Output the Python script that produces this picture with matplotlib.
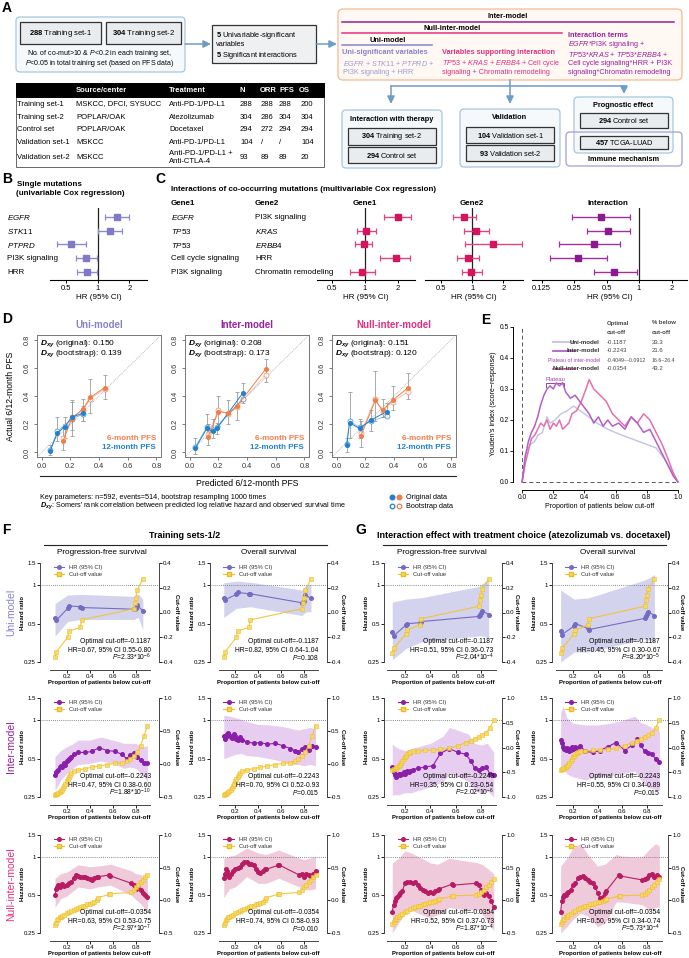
import numpy as np
import matplotlib
matplotlib.use("Agg")
import matplotlib.pyplot as plt
from matplotlib.patches import FancyBboxPatch, Rectangle
from matplotlib.lines import Line2D
from matplotlib.ticker import NullLocator

plt.rcParams['font.family'] = ['Liberation Sans', 'DejaVu Sans']
plt.rcParams['mathtext.fontset'] = 'custom'
plt.rcParams['mathtext.rm'] = 'Liberation Sans'
plt.rcParams['mathtext.it'] = 'Liberation Sans:italic'
plt.rcParams['mathtext.bf'] = 'Liberation Sans:bold'
try:
    plt.rcParams['mathtext.bfit'] = 'Liberation Sans:italic:bold'
    DXY = r"$\mathbfit{D}_{\mathbfit{xy}}$"
except KeyError:
    DXY = r"$\mathbf{D}_{\mathbf{xy}}$"

# ------------------------------------------------------------------ DATA
# Panel A table
table_header = ["Source/center", "Treatment", "N", "ORR", "PFS", "OS"]
table_sets = ["Training set-1", "Training set-2", "Control set", "Validation set-1", "Validation set-2"]
table_source = ["MSKCC, DFCI, SYSUCC", "POPLAR/OAK", "POPLAR/OAK", "MSKCC", "MSKCC"]
table_treat = ["Anti-PD-1/PD-L1", "Atezolizumab", "Docetaxel", "Anti-PD-1/PD-L1",
               "Anti-PD-1/PD-L1 +\nAnti-CTLA-4"]
table_N = ["288", "304", "294", "104", "93"]
table_ORR = ["288", "286", "272", "/", "89"]
table_PFS = ["288", "304", "294", "/", "89"]
table_OS = ["200", "304", "294", "104", "20"]

# Panel B
b_genes = ["EGFR", "STK11", "PTPRD", "PI3K signaling", "HRR"]
b_italic = [True, True, True, False, False]
b_hr = [1.52, 1.30, 0.55, 0.77, 0.78]
b_lo = [1.17, 1.00, 0.41, 0.62, 0.63]
b_hi = [1.98, 1.69, 0.77, 0.98, 0.98]

# Panel C
c_gene1 = ["EGFR", "TP53", "TP53", "Cell cycle signaling", "PI3K signaling"]
c_gene1_it = [True, True, True, False, False]
c_gene2 = ["PI3K signaling", "KRAS", "ERBB4", "HRR", "Chromatin remodeling"]
c_gene2_it = [False, True, True, False, False]
c_g1_hr = [2.00, 1.02, 0.98, 1.92, 0.94]
c_g1_lo = [1.50, 0.85, 0.81, 1.37, 0.73]
c_g1_hi = [2.68, 1.26, 1.16, 2.63, 1.23]
c_g2_hr = [0.84, 1.09, 1.59, 0.92, 0.98]
c_g2_lo = [0.66, 0.84, 0.86, 0.72, 0.79]
c_g2_hi = [1.09, 1.45, 3.00, 1.17, 1.25]
c_int_hr = [0.44, 0.52, 0.38, 0.27, 0.59]
c_int_lo = [0.24, 0.33, 0.18, 0.15, 0.38]
c_int_hi = [0.82, 0.82, 0.66, 0.51, 0.96]

# Panel D calibration (predicted, observed, bootstrap, CI)
d_models = ["Uni-model", "Inter-model", "Null-inter-model"]
d_dxy_orig = ["0.150", "0.208", "0.151"]
d_dxy_boot = ["0.139", "0.173", "0.120"]
uni_p6 = [0.15, 0.21, 0.29, 0.34, 0.44]
uni_o6 = [0.08, 0.24, 0.31, 0.39, 0.46]
uni_b6 = [0.10, 0.25, 0.30, 0.38, 0.45]
uni_l6 = [0.02, 0.12, 0.22, 0.28, 0.38]
uni_h6 = [0.18, 0.37, 0.38, 0.52, 0.55]
uni_p12 = [0.06, 0.11, 0.16, 0.21, 0.29]
uni_o12 = [0.01, 0.14, 0.18, 0.25, 0.28]
uni_b12 = [0.02, 0.15, 0.19, 0.24, 0.27]
uni_l12 = [-0.02, 0.08, 0.10, 0.16, 0.22]
uni_h12 = [0.05, 0.25, 0.25, 0.36, 0.33]
inter_p6 = [0.13, 0.20, 0.27, 0.33, 0.53]
inter_o6 = [0.11, 0.29, 0.28, 0.33, 0.59]
inter_b6 = [0.13, 0.30, 0.27, 0.32, 0.55]
inter_l6 = [0.05, 0.19, 0.20, 0.23, 0.50]
inter_h6 = [0.20, 0.40, 0.37, 0.43, 0.66]
inter_p12 = [0.04, 0.12, 0.16, 0.19, 0.37]
inter_o12 = [0.03, 0.17, 0.15, 0.17, 0.42]
inter_b12 = [0.04, 0.18, 0.16, 0.18, 0.38]
inter_l12 = [-0.01, 0.10, 0.10, 0.13, 0.35]
inter_h12 = [0.10, 0.27, 0.24, 0.21, 0.49]
null_p6 = [0.17, 0.27, 0.32, 0.39, 0.50]
null_o6 = [0.12, 0.37, 0.30, 0.37, 0.46]
null_b6 = [0.14, 0.38, 0.29, 0.36, 0.43]
null_l6 = [0.04, 0.22, 0.25, 0.30, 0.38]
null_h6 = [0.22, 0.58, 0.38, 0.47, 0.56]
null_p12 = [0.07, 0.09, 0.16, 0.24, 0.35]
null_o12 = [0.05, 0.21, 0.17, 0.23, 0.29]
null_b12 = [0.06, 0.22, 0.18, 0.22, 0.26]
null_l12 = [0.00, 0.10, 0.10, 0.15, 0.25]
null_h12 = [0.10, 0.43, 0.24, 0.30, 0.35]

# Panel E Youden index curves
e_x_uni = [0.00, 0.02, 0.05, 0.08, 0.10, 0.13, 0.16, 0.18, 0.21, 0.25, 0.29, 0.33, 0.40,
           0.48, 0.55, 0.62, 0.70, 0.78, 0.86, 0.92, 1.00]
e_y_uni = [0.00, 0.09, 0.12, 0.13, 0.15, 0.16, 0.21, 0.19, 0.20, 0.22, 0.23, 0.245, 0.22,
           0.19, 0.17, 0.155, 0.14, 0.125, 0.11, 0.07, 0.00]
e_x_inter = [0.00, 0.02, 0.04, 0.06, 0.08, 0.10, 0.12, 0.14, 0.16, 0.18, 0.20, 0.22, 0.24, 0.26,
             0.28, 0.31, 0.34, 0.37, 0.40, 0.43, 0.46, 0.49, 0.52, 0.55, 0.58, 0.62, 0.66, 0.70,
             0.74, 0.78, 0.82, 0.86, 0.90, 0.94, 0.97, 1.00]
e_y_inter = [0.00, 0.08, 0.13, 0.16, 0.18, 0.21, 0.25, 0.28, 0.30, 0.31, 0.30, 0.32, 0.31, 0.32,
             0.29, 0.27, 0.28, 0.26, 0.24, 0.22, 0.19, 0.21, 0.18, 0.20, 0.18, 0.19, 0.17, 0.21,
             0.19, 0.16, 0.17, 0.13, 0.09, 0.05, 0.02, 0.00]
e_x_null = [0.00, 0.02, 0.04, 0.06, 0.08, 0.10, 0.12, 0.14, 0.16, 0.18, 0.20, 0.22, 0.24, 0.26,
            0.28, 0.30, 0.32, 0.35, 0.38, 0.41, 0.43, 0.46, 0.50, 0.54, 0.58, 0.62, 0.66, 0.70,
            0.74, 0.78, 0.82, 0.86, 0.90, 0.94, 0.97, 1.00]
e_y_null = [0.00, 0.06, 0.10, 0.14, 0.15, 0.17, 0.19, 0.18, 0.20, 0.17, 0.19, 0.18, 0.20, 0.17,
            0.18, 0.19, 0.22, 0.23, 0.26, 0.30, 0.33, 0.30, 0.28, 0.26, 0.22, 0.20, 0.18, 0.21,
            0.19, 0.22, 0.20, 0.16, 0.12, 0.07, 0.03, 0.00]
e_names = ["Uni-model", "Inter-model", "Plateau of inter-model", "Null-inter-model"]
e_cutoffs = ["-0.1187", "-0.2243", "-0.4049~-0.0912", "-0.0354"]
e_below = ["33.3", "21.6", "16.6~26.4", "43.2"]

# Panels F/G  --- row 1 : Uni-model
u_x = [0.10, 0.11, 0.21, 0.22, 0.32, 0.33, 0.78, 0.79, 0.80, 0.81, 0.86]
u_cut_F = [-0.36, -0.32, -0.20, -0.15, -0.12, -0.06, 0.03, 0.08, 0.12, 0.18, 0.27]
u_cut_G = [-0.33, -0.29, -0.17, -0.14, -0.10, -0.05, 0.05, 0.10, 0.14, 0.19, 0.27]
u_hr_F_pfs = [0.55, 0.53, 0.66, 0.69, 0.68, 0.67, 0.65, 0.65, 0.66, 0.70, 0.63]
u_hr_F_os = [0.80, 0.77, 0.85, 0.88, 0.86, 0.86, 0.73, 0.74, 0.76, 0.84, 0.79]
u_hr_G_pfs = [0.43, 0.40, 0.49, 0.50, 0.51, 0.52, 0.57, 0.59, 0.61, 0.63, 0.59]
u_hr_G_os = [0.44, 0.41, 0.48, 0.50, 0.46, 0.45, 0.55, 0.57, 0.60, 0.62, 0.58]
u_bx = [0.10, 0.21, 0.33, 0.78, 0.82, 0.86]
u_lo_F_pfs = [0.40, 0.52, 0.54, 0.54, 0.56, 0.45]
u_hi_F_pfs = [0.72, 0.84, 0.85, 0.82, 0.86, 0.78]
u_lo_F_os = [0.56, 0.66, 0.68, 0.58, 0.62, 0.62]
u_hi_F_os = [1.05, 1.08, 1.06, 0.92, 1.00, 1.02]
u_lo_G_pfs = [0.26, 0.32, 0.36, 0.40, 0.40, 0.38]
u_hi_G_pfs = [0.74, 0.78, 0.80, 0.98, 1.05, 1.12]
u_lo_G_os = [0.25, 0.30, 0.30, 0.38, 0.37, 0.36]
u_hi_G_os = [0.92, 0.78, 0.80, 1.10, 1.15, 1.22]

# row 2 : Inter-model
i_x = [0.10, 0.11, 0.12, 0.13, 0.14, 0.15, 0.16, 0.17, 0.18, 0.19, 0.20, 0.21, 0.22, 0.23, 0.24,
       0.26, 0.30, 0.36, 0.42, 0.48, 0.55, 0.62, 0.68, 0.72, 0.75, 0.78, 0.81, 0.84, 0.87, 0.90]
i_cut_F = [-0.47, -0.46, -0.45, -0.44, -0.43, -0.41, -0.39, -0.37, -0.34, -0.30, -0.26, -0.23,
           -0.20, -0.16, -0.13, -0.11, -0.09, -0.07, -0.05, -0.03, -0.01, 0.01, 0.02, 0.04, 0.08,
           0.12, 0.18, 0.28, 0.42, 0.58]
i_cut_G = [-0.46, -0.44, -0.43, -0.41, -0.40, -0.38, -0.35, -0.31, -0.27, -0.24, -0.20, -0.17,
           -0.14, -0.12, -0.10, -0.08, -0.07, -0.06, -0.05, -0.04, -0.02, 0.04, 0.10, 0.14, 0.18,
           0.22, 0.26, 0.30, 0.40, 0.55]
i_hr_F_pfs = [0.37, 0.39, 0.40, 0.41, 0.43, 0.44, 0.43, 0.45, 0.46, 0.45, 0.48, 0.49, 0.50, 0.51,
              0.52, 0.54, 0.56, 0.56, 0.57, 0.61, 0.58, 0.57, 0.54, 0.50, 0.53, 0.55, 0.52, 0.49,
              0.46, 0.46]
i_hr_F_os = [0.75, 0.72, 0.74, 0.78, 0.80, 0.77, 0.74, 0.73, 0.76, 0.78, 0.75, 0.72, 0.70, 0.72,
             0.74, 0.70, 0.68, 0.66, 0.67, 0.65, 0.66, 0.63, 0.60, 0.58, 0.56, 0.60, 0.62, 0.59,
             0.63, 0.62]
i_hr_G_pfs = [0.43, 0.39, 0.37, 0.36, 0.37, 0.38, 0.37, 0.38, 0.38, 0.39, 0.38, 0.39, 0.40, 0.39,
              0.40, 0.41, 0.42, 0.43, 0.44, 0.55, 0.60, 0.56, 0.54, 0.48, 0.42, 0.41, 0.42, 0.43,
              0.38, 0.37]
i_hr_G_os = [0.70, 0.66, 0.62, 0.60, 0.59, 0.61, 0.60, 0.58, 0.59, 0.62, 0.60, 0.61, 0.62, 0.60,
             0.61, 0.63, 0.57, 0.56, 0.58, 0.62, 0.67, 0.58, 0.64, 0.71, 0.64, 0.57, 0.55, 0.54,
             0.50, 0.47]
i_bx_F = [0.10, 0.15, 0.20, 0.25, 0.30, 0.40, 0.50, 0.60, 0.70, 0.75, 0.80, 0.85, 0.90]
i_lo_F_pfs = [0.28, 0.34, 0.38, 0.42, 0.45, 0.46, 0.48, 0.46, 0.42, 0.43, 0.42, 0.38, 0.33]
i_hi_F_pfs = [0.52, 0.58, 0.62, 0.65, 0.70, 0.70, 0.74, 0.70, 0.66, 0.66, 0.66, 0.62, 0.63]
i_lo_F_os = [0.50, 0.52, 0.54, 0.55, 0.53, 0.52, 0.50, 0.48, 0.45, 0.45, 0.44, 0.45, 0.44]
i_hi_F_os = [1.10, 1.08, 1.05, 1.02, 0.98, 0.93, 0.92, 0.90, 0.86, 0.84, 0.86, 0.88, 0.86]
i_bx_G_pfs = [0.10, 0.15, 0.20, 0.25, 0.30, 0.40, 0.50, 0.55, 0.60, 0.70, 0.75, 0.80, 0.85, 0.90]
i_lo_G_pfs = [0.26, 0.26, 0.27, 0.27, 0.28, 0.30, 0.33, 0.38, 0.37, 0.33, 0.28, 0.27, 0.28, 0.25]
i_hi_G_pfs = [0.65, 0.60, 0.58, 0.60, 0.62, 0.66, 0.75, 0.88, 0.85, 0.78, 0.66, 0.64, 0.66, 0.56]
i_bx_G_os = [0.10, 0.12, 0.15, 0.20, 0.30, 0.40, 0.50, 0.60, 0.70, 0.75, 0.80, 0.90]
i_lo_G_os = [0.40, 0.42, 0.38, 0.36, 0.34, 0.36, 0.37, 0.38, 0.40, 0.34, 0.30, 0.28]
i_hi_G_os = [1.15, 1.30, 1.05, 0.95, 0.92, 0.92, 0.95, 1.00, 1.08, 0.96, 0.92, 0.82]

# row 3 : Null-inter-model
n_x = [0.10, 0.11, 0.12, 0.13, 0.14, 0.15, 0.16, 0.18, 0.20, 0.22, 0.24, 0.26, 0.28, 0.30, 0.32,
       0.34, 0.36, 0.38, 0.40, 0.42, 0.44, 0.46, 0.47, 0.57, 0.58, 0.76, 0.78, 0.80, 0.82, 0.84,
       0.86, 0.88, 0.90]
n_cut_F = [-0.38, -0.34, -0.30, -0.28, -0.26, -0.25, -0.24, -0.22, -0.20, -0.18, -0.16, -0.15,
           -0.13, -0.12, -0.10, -0.09, -0.08, -0.06, -0.05, -0.04, -0.02, 0.01, 0.04, 0.09, 0.10,
           0.12, 0.16, 0.20, 0.24, 0.28, 0.31, 0.35, 0.39]
n_cut_G = [-0.36, -0.33, -0.30, -0.28, -0.26, -0.25, -0.23, -0.21, -0.18, -0.16, -0.14, -0.12,
           -0.10, -0.09, -0.08, -0.06, -0.05, -0.04, -0.03, -0.02, -0.01, 0.00, 0.02, 0.06, 0.07,
           0.08, 0.10, 0.13, 0.16, 0.20, 0.24, 0.28, 0.33]
n_hr_F_pfs = [0.50, 0.56, 0.58, 0.60, 0.58, 0.60, 0.61, 0.59, 0.60, 0.62, 0.64, 0.68, 0.72, 0.71,
              0.70, 0.69, 0.70, 0.68, 0.67, 0.66, 0.68, 0.70, 0.70, 0.72, 0.71, 0.62, 0.60, 0.56,
              0.58, 0.55, 0.52, 0.50, 0.48]
n_hr_F_os = [0.68, 0.74, 0.80, 0.78, 0.72, 0.70, 0.73, 0.78, 0.80, 0.82, 0.84, 0.88, 0.92, 0.91,
             0.89, 0.88, 0.86, 0.80, 0.76, 0.75, 0.78, 0.80, 0.80, 0.86, 0.87, 0.72, 0.73, 0.70,
             0.74, 0.72, 0.70, 0.74, 0.78]
n_hr_G_pfs = [0.37, 0.42, 0.45, 0.47, 0.48, 0.50, 0.52, 0.54, 0.62, 0.63, 0.63, 0.62, 0.63, 0.60,
              0.57, 0.55, 0.54, 0.52, 0.53, 0.52, 0.54, 0.55, 0.56, 0.61, 0.60, 0.62, 0.60, 0.55,
              0.50, 0.52, 0.49, 0.45, 0.40]
n_hr_G_os = [0.37, 0.45, 0.48, 0.50, 0.50, 0.52, 0.53, 0.55, 0.60, 0.62, 0.68, 0.70, 0.71, 0.68,
             0.66, 0.64, 0.62, 0.58, 0.52, 0.47, 0.48, 0.52, 0.54, 0.72, 0.71, 0.66, 0.67, 0.68,
             0.72, 0.74, 0.70, 0.72, 0.70]
n_bx_F = [0.10, 0.15, 0.20, 0.30, 0.40, 0.47, 0.58, 0.76, 0.80, 0.85, 0.90]
n_lo_F_pfs = [0.40, 0.47, 0.49, 0.58, 0.56, 0.58, 0.60, 0.50, 0.46, 0.42, 0.36]
n_hi_F_pfs = [0.68, 0.74, 0.76, 0.87, 0.84, 0.85, 0.88, 0.78, 0.74, 0.72, 0.66]
n_lo_F_os = [0.48, 0.56, 0.58, 0.70, 0.62, 0.62, 0.68, 0.58, 0.56, 0.55, 0.56]
n_hi_F_os = [0.98, 1.02, 1.04, 1.18, 1.08, 1.05, 1.14, 0.98, 0.96, 0.98, 1.02]
n_bx_G_pfs = [0.10, 0.15, 0.20, 0.25, 0.30, 0.40, 0.46, 0.55, 0.60, 0.78, 0.82, 0.86, 0.90]
n_lo_G_pfs = [0.25, 0.30, 0.36, 0.38, 0.36, 0.33, 0.35, 0.40, 0.39, 0.38, 0.34, 0.30, 0.26]
n_hi_G_pfs = [0.90, 0.98, 1.12, 1.08, 1.02, 0.90, 0.88, 0.98, 0.96, 0.90, 0.86, 0.80, 0.74]
n_bx_G_os = [0.10, 0.15, 0.20, 0.26, 0.32, 0.40, 0.46, 0.55, 0.60, 0.76, 0.82, 0.87, 0.90]
n_lo_G_os = [0.25, 0.28, 0.32, 0.36, 0.34, 0.28, 0.30, 0.44, 0.44, 0.42, 0.38, 0.40, 0.40]
n_hi_G_os = [0.85, 0.98, 1.18, 1.28, 1.05, 0.85, 0.88, 1.05, 1.02, 1.00, 1.16, 1.28, 1.22]

fg_cutoff = ["-0.1187", "-0.2243", "-0.0354"]
fg_hrtext = [["0.67, 95% CI 0.55-0.80", "0.82, 95% CI 0.64-1.04", "0.51, 95% CI 0.36-0.73", "0.45, 95% CI 0.30-0.67"],
             ["0.47, 95% CI 0.38-0.60", "0.70, 95% CI 0.52-0.93", "0.35, 95% CI 0.23-0.54", "0.55, 95% CI 0.34-0.89"],
             ["0.63, 95% CI 0.53-0.75", "0.74, 95% CI 0.58-0.93", "0.52, 95% CI 0.37-0.73", "0.50, 95% CI 0.34-0.74"]]
fg_ptext = [[r"2.33*10$^{-6}$", "0.108", r"2.04*10$^{-4}$", r"8.20*10$^{-5}$"],
            [r"1.88*10$^{-10}$", "0.015", r"2.02*10$^{-6}$", "0.015"],
            [r"2.97*10$^{-7}$", "0.010", r"1.87*10$^{-4}$", r"5.73*10$^{-4}$"]]

# ------------------------------------------------------------------ STYLE
C_UNI = '#8782CC'
C_INTER = '#97219F'
C_NULL = '#E0307F'
C_6 = '#F07E4B'
C_12 = '#2180CF'
C_YEL = '#F2C230'

W, H = 689, 958
fig = plt.figure(figsize=(W / 100, H / 100), dpi=100)
ov = fig.add_axes([0, 0, 1, 1])
ov.set_xlim(0, W)
ov.set_ylim(H, 0)
ov.axis('off')


def add_ax(x0, y0, x1, y1):
    a = fig.add_axes([x0 / W, 1 - y1 / H, (x1 - x0) / W, (y1 - y0) / H])
    a.patch.set_visible(False)
    return a


def T(x, y, s, size=5.5, **kw):
    kw.setdefault('va', 'center')
    return ov.text(x, y, s, fontsize=size, **kw)


def rbox(x0, y0, x1, y1, ec, fc, lw=0.9, r=4, z=1):
    ov.add_patch(FancyBboxPatch((x0, y0), x1 - x0, y1 - y0,
                                boxstyle=f"round,pad=0,rounding_size={r}",
                                ec=ec, fc=fc, lw=lw, zorder=z))


def sbox(x0, y0, x1, y1, ec='#333333', fc='#E8ECEF', lw=0.9, z=2):
    ov.add_patch(Rectangle((x0, y0), x1 - x0, y1 - y0, ec=ec, fc=fc, lw=lw, zorder=z))


def arrow(x0, y0, x1, y1, color='#6E9DC4'):
    ov.annotate('', xy=(x1, y1), xytext=(x0, y0), zorder=3,
                arrowprops=dict(arrowstyle='-|>,head_length=0.45,head_width=0.22',
                                color=color, lw=1.1, shrinkA=0, shrinkB=0))


def it(s, flag):
    return (r"$\mathit{" + s + "}$") if flag else s


# ------------------------------------------------------------------ PANEL A
T(2, 8, 'A', size=10, fontweight='bold')
rbox(16, 17, 185, 72, ec='#A9C6DB', fc='#F5F9FC')
sbox(20, 22, 101, 44)
sbox(106, 22, 181, 44)
T(60.5, 33, r"$\mathbf{288}$ Training set-1", ha='center', zorder=4)
T(143.5, 33, r"$\mathbf{304}$ Training set-2", ha='center', zorder=4)
T(100, 53, r"No. of co-mut>10 & $\mathit{P}$<0.2 in each training set,", size=5.0, ha='center', zorder=4)
T(100, 63, r"$\mathit{P}$<0.05 in total training set (based on PFS data)", size=5.0, ha='center', zorder=4)
arrow(185, 44, 211, 44)
sbox(212, 25, 316, 63, fc='#EEF0F2')
T(216, 35, r"$\mathbf{5}$ Univariable-significant", size=5.3, zorder=4)
T(216, 44, "variables", size=5.3, zorder=4)
T(216, 55, r"$\mathbf{5}$ Significant interactions", size=5.3, zorder=4)
arrow(316, 44, 337, 44)

rbox(338, 9, 682, 80, ec='#F6B994', fc='#FFF8F3', r=5)
T(508, 16, 'Inter-model', size=5.3, ha='center', fontweight='bold', zorder=4)
ov.plot([342, 674], [22, 22], color=C_INTER, lw=1.1, zorder=4)
T(452, 28.5, 'Null-inter-model', size=5.3, ha='center', fontweight='bold', zorder=4)
ov.plot([342, 562], [33, 33], color=C_NULL, lw=1.1, zorder=4)
T(388, 40, 'Uni-model', size=5.3, ha='center', fontweight='bold', zorder=4)
ov.plot([342, 432], [45, 45], color=C_UNI, lw=1.1, zorder=4)
T(342, 52, 'Uni-significant variables', size=5.3, color=C_UNI, fontweight='bold', zorder=4)
T(343, 63, r"$\mathit{EGFR}$ + $\mathit{STK11}$ + $\mathit{PTPRD}$ +", size=5.2, color='#9E9BD0', zorder=4)
T(343, 72, "PI3K signaling + HRR", size=5.2, color='#9E9BD0', zorder=4)
T(442, 52, 'Variables supporting interaction', size=5.3, color=C_NULL, fontweight='bold', zorder=4)
T(442, 63, r"$\mathit{TP53}$ + $\mathit{KRAS}$ + $\mathit{ERBB4}$ + Cell cycle", size=5.2, color=C_NULL, zorder=4)
T(442, 72, "signaling + Chromatin remodeling", size=5.2, color=C_NULL, zorder=4)
T(568, 35, 'Interaction terms', size=5.3, color=C_INTER, fontweight='bold', zorder=4)
T(568, 44, r"$\mathit{EGFR}$*PI3K signaling +", size=5.2, color=C_INTER, zorder=4)
T(568, 54, r"$\mathit{TP53}$*$\mathit{KRAS}$ + $\mathit{TP53}$*$\mathit{ERBB4}$ +", size=5.2, color=C_INTER, zorder=4)
T(568, 63, "Cell cycle signaling*HRR + PI3K", size=5.2, color=C_INTER, zorder=4)
T(568, 72, "signaling*Chromatin remodeling", size=5.2, color=C_INTER, zorder=4)

ov.plot([510, 510], [80, 86], color='#6E9DC4', lw=1.1)
ov.plot([391, 624], [86, 86], color='#6E9DC4', lw=1.1)
arrow(391, 86, 391, 104)
arrow(510, 86, 510, 104)
arrow(624, 86, 624, 94)

rbox(342, 110, 442, 168, ec='#A9C6DB', fc='#F5F9FC')
T(392, 119, 'Interaction with therapy', size=5.3, ha='center', fontweight='bold', zorder=4)
sbox(348, 128, 436, 145)
T(392, 136.5, r"$\mathbf{304}$ Training set-2", size=5.3, ha='center', zorder=4)
sbox(348, 147, 436, 163)
T(392, 155, r"$\mathbf{294}$ Control set", size=5.3, ha='center', zorder=4)

rbox(460, 109, 560, 167, ec='#A9C6DB', fc='#F5F9FC')
T(510, 117, 'Validation', size=5.3, ha='center', fontweight='bold', zorder=4)
sbox(466, 127, 554, 143)
T(510, 135, r"$\mathbf{104}$ Validation set-1", size=5.3, ha='center', zorder=4)
sbox(466, 145, 554, 161)
T(510, 153, r"$\mathbf{93}$ Validation set-2", size=5.3, ha='center', zorder=4)

rbox(574, 97, 673, 153, ec='#A9C6DB', fc='#F5F9FC', z=1)
T(623, 105, 'Prognostic effect', size=5.3, ha='center', fontweight='bold', zorder=4)
sbox(580, 113, 668, 128)
T(624, 120.5, r"$\mathbf{294}$ Control set", size=5.3, ha='center', zorder=4)
rbox(566, 132, 682, 166, ec='#ABA6DA', fc='none', lw=1.0, z=3)
sbox(580, 136, 668, 149, z=4)
T(624, 142.5, r"$\mathbf{457}$ TCGA-LUAD", size=5.3, ha='center', zorder=5)
T(624, 159, 'Immune mechanism', size=5.3, ha='center', fontweight='bold', zorder=4)

# table
ov.add_patch(Rectangle((16, 83), 308, 84, ec='#666666', fc='white', lw=0.7, zorder=1))
ov.add_patch(Rectangle((16, 83), 308, 14, ec='black', fc='black', lw=0.7, zorder=2))
col_x = [76, 169, 240, 260, 279, 299]
for cx, hd in zip(col_x, table_header):
    T(cx, 90, hd, size=5.5, color='white', fontweight='bold', zorder=3)
row_y = [104, 117, 129, 142, 157.5]
for k in range(len(table_sets)):
    y = row_y[k]
    T(17, y, table_sets[k], size=5.5, zorder=3)
    T(76, y, table_source[k], size=5.5, zorder=3)
    T(169, y, table_treat[k], size=5.5, zorder=3, linespacing=1.05)
    T(240, y, table_N[k], size=5.5, zorder=3)
    T(261, y, table_ORR[k], size=5.5, zorder=3)
    T(279, y, table_PFS[k], size=5.5, zorder=3)
    T(301, y, table_OS[k], size=5.5, zorder=3)

# ------------------------------------------------------------------ PANEL B / C
T(2, 179, 'B', size=10, fontweight='bold')
T(17, 184, 'Single mutations', size=5.8, fontweight='bold')
T(16, 193, '(univariable Cox regression)', size=5.8, fontweight='bold')
T(155, 179, 'C', size=10, fontweight='bold')
T(171, 189, 'Interactions of co-occurring mutations (multivariable Cox regression)', size=5.8, fontweight='bold')
T(171, 203, 'Gene1', size=5.8, fontweight='bold')
T(255, 203, 'Gene2', size=5.8, fontweight='bold')
T(365, 203, 'Gene1', size=5.8, fontweight='bold', ha='center')
T(472, 203, 'Gene2', size=5.8, fontweight='bold', ha='center')
T(608, 203, 'Interaction', size=5.8, fontweight='bold', ha='center')

rows_py = [217, 231, 245, 258, 272]
for k in range(5):
    T(7, rows_py[k], it(b_genes[k], b_italic[k]), size=5.8)
    T(171, rows_py[k], it(c_gene1[k], c_gene1_it[k]), size=5.8)
    T(255, rows_py[k], it(c_gene2[k], c_gene2_it[k]), size=5.8)


def forest(x0, x1, xl, xr, ticks, labels, hr, lo, hi, mcol, lcol):
    ax = add_ax(x0, 208, x1, 280)
    ax.set_xscale('log', base=2)
    ax.set_xlim(xl, xr)
    ax.set_ylim(4.6, -0.65)
    y = np.arange(len(hr))
    hr = np.asarray(hr); lo = np.asarray(lo); hi = np.asarray(hi)
    ax.axvline(1, color='#222222', lw=0.9, zorder=1)
    ax.errorbar(hr, y, xerr=[hr - lo, hi - hr], fmt='none', ecolor=lcol,
                elinewidth=1.0, capsize=2.0, capthick=0.9, zorder=2)
    ax.plot(hr, y, 's', color=mcol, ms=5.0, zorder=3)
    for s in ('top', 'right', 'left'):
        ax.spines[s].set_visible(False)
    ax.spines['bottom'].set_linewidth(0.8)
    ax.set_yticks([])
    ax.set_xticks(ticks, labels)
    ax.xaxis.set_minor_locator(NullLocator())
    ax.tick_params(axis='x', labelsize=5.5, length=2.5, width=0.7, pad=1.2)
    ax.set_xlabel('HR (95% CI)', fontsize=5.8, labelpad=1.5)
    return ax


forest(50, 147, 0.348, 2.94, [0.5, 1, 2], ['0.5', '1', '2'], b_hr, b_lo, b_hi, '#7F79C8', '#8F8AD0')
forest(317, 415, 0.36, 2.9, [0.5, 1, 2], ['0.5', '1', '2'], c_g1_hr, c_g1_lo, c_g1_hi, '#D6145E', '#E0457F')
forest(425, 523, 0.35, 3.1, [0.5, 1, 2], ['0.5', '1', '2'], c_g2_hr, c_g2_lo, c_g2_hi, '#D6145E', '#E0457F')
forest(532, 687, 0.102, 2.78, [0.125, 0.25, 0.5, 1, 2], ['0.125', '0.25', '0.5', '1', '2'],
       c_int_hr, c_int_lo, c_int_hi, '#8A1A8E', '#A0309F')

# ------------------------------------------------------------------ PANEL D
T(2, 319, 'D', size=10, fontweight='bold')
d_sets = [(uni_p6, uni_o6, uni_b6, uni_l6, uni_h6, uni_p12, uni_o12, uni_b12, uni_l12, uni_h12),
          (inter_p6, inter_o6, inter_b6, inter_l6, inter_h6, inter_p12, inter_o12, inter_b12, inter_l12, inter_h12),
          (null_p6, null_o6, null_b6, null_l6, null_h6, null_p12, null_o12, null_b12, null_l12, null_h12)]
d_x0 = [37, 185, 332]
d_col = [C_UNI, C_INTER, C_NULL]
for k in range(3):
    x0 = d_x0[k]; x1 = x0 + 124
    ax = add_ax(x0, 335, x1, 457)
    ax.set_xlim(-0.032, 0.832); ax.set_ylim(-0.032, 0.832)
    ax.plot([-0.05, 0.9], [-0.05, 0.9], ls=(0, (1, 1.2)), color='#A8A8A8', lw=0.6, zorder=1)
    p6, o6, b6, l6, h6, p12, o12, b12, l12, h12 = d_sets[k]
    for p, o, b, l, h, c in ((p6, o6, b6, l6, h6, C_6), (p12, o12, b12, l12, h12, C_12)):
        p = np.asarray(p); o = np.asarray(o)
        ax.errorbar(p, o, yerr=[o - np.asarray(l), np.asarray(h) - o], fmt='none', ecolor='#9C9C9C',
                    elinewidth=0.6, capsize=1.3, capthick=0.6, zorder=2)
        ax.plot(p, b, '-', color=c, lw=0.6, alpha=0.5, zorder=3)
        ax.plot(p, b, 'o', ms=3.6, mfc='white', mec=c, mew=0.6, alpha=0.75, zorder=3)
        ax.plot(p, o, '-', color=c, lw=0.7, zorder=4)
        ax.plot(p, o, 'o', ms=2.6, color=c, zorder=5)
    tk = [0, 0.2, 0.4, 0.6, 0.8]; tl = ['0.0', '0.2', '0.4', '0.6', '0.8']
    ax.set_xticks(tk, tl); ax.set_yticks(tk, tl)
    for lab in ax.get_yticklabels():
        lab.set_rotation(90); lab.set_va('center')
    ax.tick_params(labelsize=5.3, length=2.5, width=0.6, pad=2, color='#666666', labelcolor='#333333')
    for s in ax.spines.values():
        s.set_linewidth(0.7); s.set_color('#777777')
    T((x0 + x1) / 2, 325, d_models[k], size=7, color=d_col[k], ha='center', fontweight='bold')
    T(x0 + 3, 344, DXY + " (original): " + d_dxy_orig[k], size=6)
    T(x0 + 3, 354, DXY + " (bootstrap): " + d_dxy_boot[k], size=6)
    T(x1 - 5, 438, '6-month PFS', size=5.8, color=C_6, ha='right', fontweight='bold')
    T(x1 - 5, 447, '12-month PFS', size=5.8, color=C_12, ha='right', fontweight='bold')
T(11, 396, 'Actual 6/12-month PFS', size=6.2, rotation=90, ha='center')
ov.plot([40, 456], [476, 476], color='#222222', lw=0.8)
T(247, 483, 'Predicted 6/12-month PFS', size=6.2, ha='center')
T(40, 497, 'Key parameters: n=592, events=514, bootstrap resampling 1000 times', size=5.2)
T(40, 506, DXY + ": Somers' rank correlation between predicted log relative hazard and observed survival time", size=5.2)
ov.plot([392], [497], 'o', color=C_12, ms=3.3)
ov.plot([399], [497], 'o', color=C_6, ms=3.3)
ov.plot([392], [506], 'o', mfc='white', mec=C_12, mew=0.9, ms=3.3)
ov.plot([399], [506], 'o', mfc='white', mec=C_6, mew=0.9, ms=3.3)
T(406, 497, 'Original data', size=5.2)
T(406, 506, 'Bootstrap data', size=5.2)

# ------------------------------------------------------------------ PANEL E
T(481, 320, 'E', size=10, fontweight='bold')
axE = add_ax(519, 322, 681, 485)
axE.set_xlim(-0.02, 1.02); axE.set_ylim(-0.0097, 0.516)
axE.plot([0, 1], [0, 0], ls=(0, (4, 3)), color='#555555', lw=0.7)
axE.plot([0, 0], [0, 0.5], ls=(0, (4, 3)), color='#555555', lw=0.7)
axE.plot(e_x_uni, e_y_uni, color='#C2C2E6', lw=1.0, zorder=2)
axE.plot(e_x_null, e_y_null, color='#E570AC', lw=1.1, zorder=3)
axE.plot(e_x_inter, e_y_inter, color='#B35FC8', lw=1.1, zorder=4)
axE.plot([0.155, 0.155, 0.27, 0.27], [0.306, 0.318, 0.318, 0.306], color='#A040B0', lw=0.7)
axE.text(0.212, 0.324, 'Plateau', color='#A040B0', fontsize=4.2, ha='center', va='bottom')
for s in ('top', 'right'):
    axE.spines[s].set_visible(False)
axE.spines['left'].set_position(('outward', 4.3))
axE.spines['bottom'].set_position(('outward', 3.6))
axE.spines['left'].set_bounds(0, 0.5)
axE.spines['bottom'].set_bounds(0, 1)
axE.set_xticks([0, 0.2, 0.4, 0.6, 0.8, 1.0], ['0.0', '0.2', '0.4', '0.6', '0.8', '1.0'])
axE.set_yticks([0, 0.1, 0.2, 0.3, 0.4, 0.5], ['0.0', '0.1', '0.2', '0.3', '0.4', '0.5'])
axE.tick_params(labelsize=4.8, length=2, width=0.6, pad=1)
for s in axE.spines.values():
    s.set_linewidth(0.7)
axE.set_xlabel('Proportion of patients below cut-off', fontsize=5.0, labelpad=1.5)
axE.set_ylabel("Youden's index (score\u2212response)", fontsize=5.0, labelpad=2)
T(607, 323, 'Optimal', size=4.3, fontweight='bold', color='#444444')
T(607, 332, 'cut-off', size=4.3, fontweight='bold', color='#444444')
T(652, 323, '% below', size=4.3, fontweight='bold', color='#444444')
T(652, 332, 'cut-off', size=4.3, fontweight='bold', color='#444444')
e_cols = ['#C2C2E6', '#B35FC8', None, '#E570AC']
e_rows = [342, 351, 360, 369]
for k in range(4):
    y = e_rows[k]
    if k == 2:
        T(600, y, e_names[k], size=3.8, color='#A040B0', ha='right')
        T(607, y, e_cutoffs[k], size=3.8, color='#444444')
        T(652, y, e_below[k], size=3.8, color='#444444')
    else:
        ov.plot([553, 575], [y, y], color=e_cols[k], lw=1.3)
        T(600, y, e_names[k], size=4.4, fontweight='bold', ha='right', color='#333333')
        T(607, y, e_cutoffs[k], size=4.3, color='#444444')
        T(652, y, e_below[k], size=4.3, color='#444444')

# ------------------------------------------------------------------ PANELS F / G
T(2, 530, 'F', size=10, fontweight='bold')
T(185, 536, 'Training sets-1/2', size=6.5, fontweight='bold', ha='center')
ov.plot([44, 327], [545, 545], color='#222222', lw=0.8)
T(102, 552, 'Progression-free survival', size=5.9, ha='center')
T(269, 552, 'Overall survival', size=5.9, ha='center')
T(355, 530, 'G', size=10, fontweight='bold')
T(524, 536, 'Interaction effect with treatment choice (atezolizumab vs. docetaxel)', size=6.5,
  fontweight='bold', ha='center')
ov.plot([383, 666], [545, 545], color='#222222', lw=0.8)
T(442, 552, 'Progression-free survival', size=5.9, ha='center')
T(608, 552, 'Overall survival', size=5.9, ha='center')
T(11, 612, 'Uni-model', size=7.5, rotation=90, ha='center', color=C_UNI)
T(11, 747, 'Inter-model', size=7.5, rotation=90, ha='center', color=C_INTER)
T(11, 884, 'Null-inter-model', size=7.5, rotation=90, ha='center', color=C_NULL)

cols_px = [(40, 159), (210, 327), (384, 502), (552, 668)]
xlims = [(-0.03, 1.0), (-0.02, 1.0), (0.035, 0.965), (0.03, 0.97)]
hz_lab_dx = [-14.5, -14.5, -15, -15]
cut_lab_dx = [15, 13, 12, 11]
rows_y = [(563, 662), (698, 797), (835, 933)]
row_hr_col = ['#756CC2', '#8A1FA9', '#B71C63']
row_band = ['#D4D3EE', '#E7CDEF', '#EFCADB']

fg_data = [
    [(u_x, u_hr_F_pfs, u_bx, u_lo_F_pfs, u_hi_F_pfs, u_cut_F),
     (u_x, u_hr_F_os, u_bx, u_lo_F_os, u_hi_F_os, u_cut_F),
     (u_x, u_hr_G_pfs, u_bx, u_lo_G_pfs, u_hi_G_pfs, u_cut_G),
     (u_x, u_hr_G_os, u_bx, u_lo_G_os, u_hi_G_os, u_cut_G)],
    [(i_x, i_hr_F_pfs, i_bx_F, i_lo_F_pfs, i_hi_F_pfs, i_cut_F),
     (i_x, i_hr_F_os, i_bx_F, i_lo_F_os, i_hi_F_os, i_cut_F),
     (i_x, i_hr_G_pfs, i_bx_G_pfs, i_lo_G_pfs, i_hi_G_pfs, i_cut_G),
     (i_x, i_hr_G_os, i_bx_G_os, i_lo_G_os, i_hi_G_os, i_cut_G)],
    [(n_x, n_hr_F_pfs, n_bx_F, n_lo_F_pfs, n_hi_F_pfs, n_cut_F),
     (n_x, n_hr_F_os, n_bx_F, n_lo_F_os, n_hi_F_os, n_cut_F),
     (n_x, n_hr_G_pfs, n_bx_G_pfs, n_lo_G_pfs, n_hi_G_pfs, n_cut_G),
     (n_x, n_hr_G_os, n_bx_G_os, n_lo_G_os, n_hi_G_os, n_cut_G)],
]
r_lims = [[(-0.4, 0.4)] * 4,
          [(-0.5, 1.0), (-0.5, 1.0), (-1.0, 1.0), (-1.0, 1.0)],
          [(-0.5, 1.0)] * 4]
r_ticks = {(-0.4, 0.4): ([-0.4, -0.2, 0, 0.2, 0.4], ['-0.4', '-0.2', '0.0', '0.2', '0.4']),
           (-0.5, 1.0): ([-0.5, 0, 0.5, 1.0], ['-0.5', '0.0', '0.5', '1.0']),
           (-1.0, 1.0): ([-1.0, -0.5, 0, 0.5, 1.0], ['-1.0', '-0.5', '0.0', '0.5', '1.0'])}

for ri in range(3):
    for ci in range(4):
        x, hr, bx, blo, bhi, cut = fg_data[ri][ci]
        x0, x1 = cols_px[ci]; y0, y1 = rows_y[ri]
        ax = add_ax(x0, y0, x1, y1)
        ax.set_yscale('log', base=2)
        ax.set_ylim(0.25, 1.5)
        ax.set_xlim(*xlims[ci])
        ax.fill_between(bx, blo, bhi, color=row_band[ri], lw=0, zorder=1)
        ax.axhline(1, ls=(0, (1, 1.5)), color='#666666', lw=0.6, zorder=2)
        ax.plot(x, hr, '-o', color=row_hr_col[ri], lw=0.8, ms=2.6, zorder=3)
        ax2 = ax.twinx()
        ax2.patch.set_visible(False)
        rl = r_lims[ri][ci]
        ax2.set_ylim(*rl)
        ax2.plot(x, cut, '-s', color=C_YEL, lw=0.8, ms=2.4, mfc='#F7D867', mec='#EDBB1F', mew=0.4,
                 alpha=0.92, zorder=3)
        for s in ('top', 'right'):
            ax.spines[s].set_visible(False)
        for s in ('top', 'left', 'bottom'):
            ax2.spines[s].set_visible(False)
        ax.spines['bottom'].set_position(('outward', 5.5))
        ax.spines['bottom'].set_bounds(0.06, 0.92)
        for s in list(ax.spines.values()) + list(ax2.spines.values()):
            s.set_linewidth(0.7); s.set_color('#444444')
        ax.set_yticks([0.25, 0.5, 1, 1.5], ['0.25', '0.5', '1', '1.5'])
        ax.yaxis.set_minor_locator(NullLocator())
        ax.set_xticks([0.2, 0.4, 0.6, 0.8], ['0.2', '0.4', '0.6', '0.8'])
        ax.tick_params(labelsize=4.4, length=2, width=0.6, pad=1)
        rt, rlab = r_ticks[rl]
        ax2.set_yticks(rt, rlab)
        ax2.tick_params(labelsize=4.4, length=2, width=0.6, pad=1)
        wpx = x1 - x0
        ax.set_ylabel('Hazard ratio', fontsize=4.2, fontweight='bold')
        ax.yaxis.set_label_coords(hz_lab_dx[ci] / wpx, 0.5)
        ax2.set_ylabel('Cut-off value', fontsize=4.2, fontweight='bold', rotation=270, va='bottom')
        ax2.yaxis.set_label_coords(1 + cut_lab_dx[ci] / wpx, 0.5)
        ax.set_xlabel('Proportion of patients below cut-off', fontsize=4.3, fontweight='bold', labelpad=1)
        handles = [Line2D([], [], color=row_hr_col[ri], marker='o', ms=2.6, lw=0.8),
                   Line2D([], [], color=C_YEL, marker='s', ms=2.4, lw=0.8, mfc='#F7D867', mec='#EDBB1F')]
        leg = ax2.legend(handles, ['HR (95% CI)', 'Cut-off value'], loc='upper left',
                         bbox_to_anchor=(0.08, 1.02), frameon=False, fontsize=4.2, handlelength=1.8,
                         handletextpad=0.8, labelspacing=0.35, borderpad=0.2)
        for t in leg.get_texts():
            t.set_color('#333333')
        ax2.text(0.93, 0.205, 'Optimal cut-off=' + fg_cutoff[ri], transform=ax2.transAxes,
                 ha='right', va='center', fontsize=4.9, zorder=6)
        ax2.text(0.93, 0.128, 'HR=' + fg_hrtext[ri][ci], transform=ax2.transAxes,
                 ha='right', va='center', fontsize=4.9, zorder=6)
        ax2.text(0.93, 0.05, r"$\mathit{P}$=" + fg_ptext[ri][ci], transform=ax2.transAxes,
                 ha='right', va='center', fontsize=4.9, zorder=6)

fig.savefig('out.png', dpi=100)
